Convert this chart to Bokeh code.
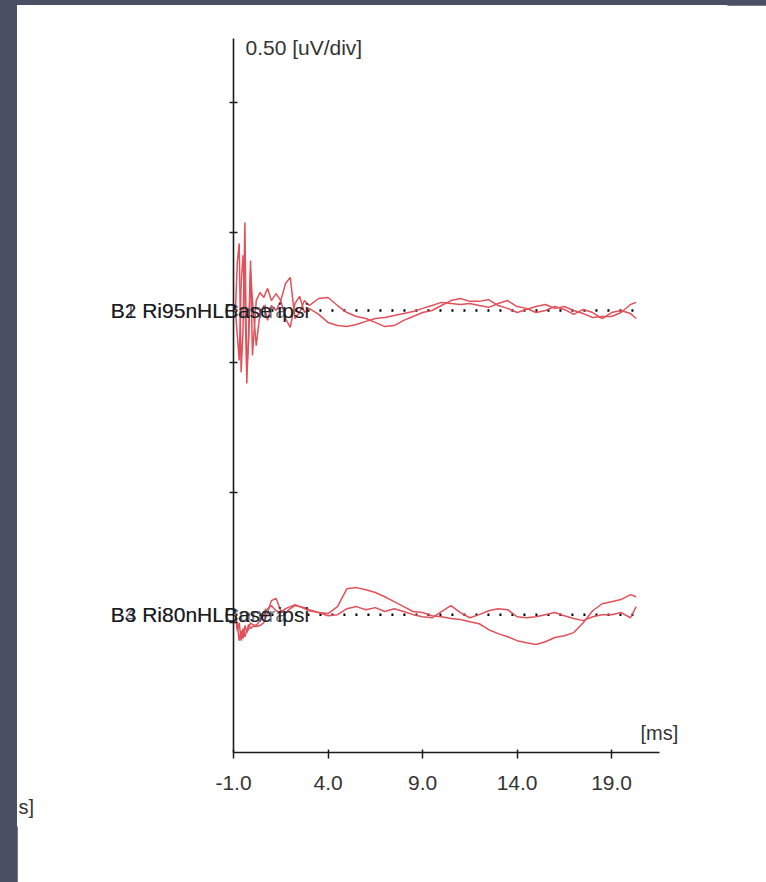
from bokeh.plotting import figure
from bokeh.models import Label, FixedTicker, Range1d, PrintfTickFormatter, LinearAxis
from bokeh.layouts import column
from bokeh.embed import file_html
from bokeh.resources import INLINE

# time axis (ms)
t_ms = [-0.9, -0.8, -0.7, -0.6, -0.5, -0.4, -0.3, -0.2, -0.1, 0.0,
        0.2, 0.4, 0.6, 0.8,
        1.0, 1.25, 1.5, 1.75, 2.0, 2.25, 2.5, 2.75, 3.0,
        3.5, 4.0, 4.5, 5.0, 5.5, 6.0, 6.5, 7.0, 7.5, 8.0, 8.5, 9.0, 9.5, 10.0,
        10.5, 11.0, 11.5, 12.0, 12.5, 13.0, 13.5, 14.0, 14.5, 15.0, 15.5, 16.0,
        16.5, 17.0, 17.5, 18.0, 18.5, 19.0, 19.5, 20.0,
        20.3]

# channel 1 (95 nHL) responses, uV relative to baseline
ch1_a = [0, 0.185, 0.258, -0.238, -0.077, 0.338, -0.281, -0.077, 0.192, -0.173,
         0.038, 0.069, 0.050, 0.085,
         0.038, 0.065, 0.038, 0.104, 0.127, -0.031, -0.008, 0.038, 0.019,
         0.046, 0.050, 0.019, -0.008, -0.023, -0.031, -0.046, -0.062, -0.058, -0.038,
         -0.023, -0.008, 0.0, 0.019, 0.038, 0.046, 0.035, 0.035, 0.042, 0.019,
         0.008, -0.008, 0.004, 0.015, 0.023, 0.008, 0.015, 0.0, -0.012, -0.027,
         -0.023, -0.023, -0.008, 0.023,
         0.031]
ch1_b = [0, -0.096, -0.192, 0.096, 0.212, 0.038, -0.231, -0.115, 0.154, 0.038,
         -0.135, -0.008, 0.019, -0.038,
         0.019, 0.0, 0.038, -0.031, -0.065, 0.027, 0.054, -0.008, 0.008,
         -0.015, -0.046, -0.058, -0.062, -0.054, -0.042, -0.031, -0.027, -0.019, -0.012,
         -0.004, 0.008, 0.019, 0.031, 0.027, 0.023, 0.027, 0.019, 0.012, 0.027,
         0.038, 0.015, 0.008, -0.008, 0.0, 0.015, 0.004, -0.015, 0.004, -0.008,
         -0.031, -0.008, 0.0, -0.012,
         -0.031]

# channel 2 (80 nHL) responses, uV relative to baseline
ch2_a = [0, -0.042, -0.100, -0.062, -0.092, -0.042, -0.069, -0.054, -0.031, -0.038,
         -0.042, -0.023, 0.0, 0.023,
         0.035, 0.015, 0.008, 0.023, 0.031, 0.038, 0.031, 0.023, 0.015,
         0.008, 0.004, 0.031, 0.100, 0.104, 0.096, 0.085, 0.069, 0.050, 0.031,
         0.012, 0.008, -0.004, -0.008, -0.015, -0.019, -0.027, -0.035, -0.058, -0.073,
         -0.085, -0.100, -0.108, -0.115, -0.104, -0.088, -0.081, -0.069, -0.031, 0.015,
         0.042, 0.050, 0.058, 0.077,
         0.069]
ch2_b = [0, -0.062, -0.031, -0.100, -0.054, -0.085, -0.062, -0.038, -0.054, -0.046,
         -0.046, -0.042, -0.031, 0.008,
         0.054, 0.062, 0.015, 0.008, 0.023, 0.035, 0.031, 0.027, 0.019,
         0.008, -0.004, 0.0, 0.023, 0.031, 0.019, 0.027, 0.012, 0.023, 0.012,
         0.0, -0.008, -0.012, 0.012, 0.035, 0.008, -0.012, 0.0, 0.015, 0.023,
         0.019, -0.008, -0.012, -0.008, 0.0, 0.008, -0.004, -0.015, -0.023, -0.008,
         0.0, 0.0, 0.008, -0.012,
         0.031]

channel_offsets = [1.70, 0.53]          # uV position of each channel's baseline
channel_labels_a = ["B2 Ri95nHLBase ipsi", "B3 Ri80nHLBase ipsi"]
channel_labels_b = ["B1 Ri95nHLContra", "B4 Ri80nHLContra"]
x_ticks = [-1.0, 4.0, 9.0, 14.0, 19.0]
y_ticks = [0.5, 1.0, 1.5, 2.0, 2.5]
x_axis_extent = (-1.0, 21.54)
y_axis_extent = (0.0, 2.746)
y_scale_label = "0.50 [uV/div]"
x_unit_label = "[ms]"
cut_label = "s]"

FONT = "Liberation Sans"
TRACE = "#e2505a"
INK = "#1c1c1c"

p = figure(width=749, height=877,
           x_range=Range1d(-12.43, 25.08), y_range=Range1d(-0.281, 2.873),
           x_axis_location=None, y_axis_location=None,
           output_backend="svg", toolbar_location=None,
           min_border_left=0, min_border_top=0,
           min_border_right=40, min_border_bottom=57)
p.outline_line_color = "white"
p.outline_line_width = 2
p.grid.visible = False
p.background_fill_color = "white"
p.border_fill_color = "white"

# x axis, drawn at y = 0
xa = LinearAxis(fixed_location=0.0, bounds=x_axis_extent)
xa.ticker = FixedTicker(ticks=x_ticks)
xa.formatter = PrintfTickFormatter(format="%.1f")
xa.axis_line_width = 1.6
xa.axis_line_color = INK
xa.major_tick_line_width = 1.5
xa.major_tick_line_color = INK
xa.major_tick_in = 3
xa.major_tick_out = 6
xa.minor_tick_line_color = None
xa.major_label_standoff = 18
xa.major_label_text_font = FONT
xa.major_label_text_font_size = "21px"
xa.major_label_text_color = "#333333"
p.add_layout(xa, "below")

# y axis, drawn at t = -1 ms
ya = LinearAxis(fixed_location=-1.0, bounds=y_axis_extent)
ya.ticker = FixedTicker(ticks=y_ticks)
ya.axis_line_width = 1.6
ya.axis_line_color = INK
ya.major_tick_line_width = 1.5
ya.major_tick_line_color = INK
ya.major_tick_in = 4
ya.major_tick_out = 4
ya.minor_tick_line_color = None
ya.major_label_text_color = None
p.add_layout(ya, "right")

# baselines and traces
for off in channel_offsets:
    p.line(x=[t_ms[0], t_ms[-1]], y=[off, off], line_color="black",
           line_width=2.5, line_dash="2 10")

for off, a, b in [(channel_offsets[0], ch1_a, ch1_b), (channel_offsets[1], ch2_a, ch2_b)]:
    p.line(x=t_ms, y=[off + v for v in a], line_color=TRACE, line_width=1.5)
    p.line(x=t_ms, y=[off + v for v in b], line_color=TRACE, line_width=1.5)

# channel labels (overlaid, as in the original)
for off, la, lb in zip(channel_offsets, channel_labels_a, channel_labels_b):
    p.add_layout(Label(x=-7.5, y=off, text=lb, text_font=FONT, text_font_size="21px",
                       text_color="#3d4a66", text_alpha=0.75, text_baseline="middle"))
    p.add_layout(Label(x=-7.5, y=off, text=la, text_font=FONT, text_font_size="21px",
                       text_color=INK, text_baseline="middle"))

# scale and unit labels
p.add_layout(Label(x=-0.37, y=2.712, text=y_scale_label, text_font=FONT,
                   text_font_size="21px", text_color="#333333", text_baseline="middle"))
p.add_layout(Label(x=20.53, y=0.073, text=x_unit_label, text_font=FONT,
                   text_font_size="20px", text_color="#333333", text_baseline="middle"))
p.add_layout(Label(x=-12.38, y=-0.208, text=cut_label, text_font=FONT,
                   text_font_size="20px", text_color="#333333", text_baseline="middle"))

p.margin = (5, 0, 0, 17)
root = column(p, styles={"background-color": "#4a5063"})

open("out.html", "w").write(file_html(root, INLINE))
